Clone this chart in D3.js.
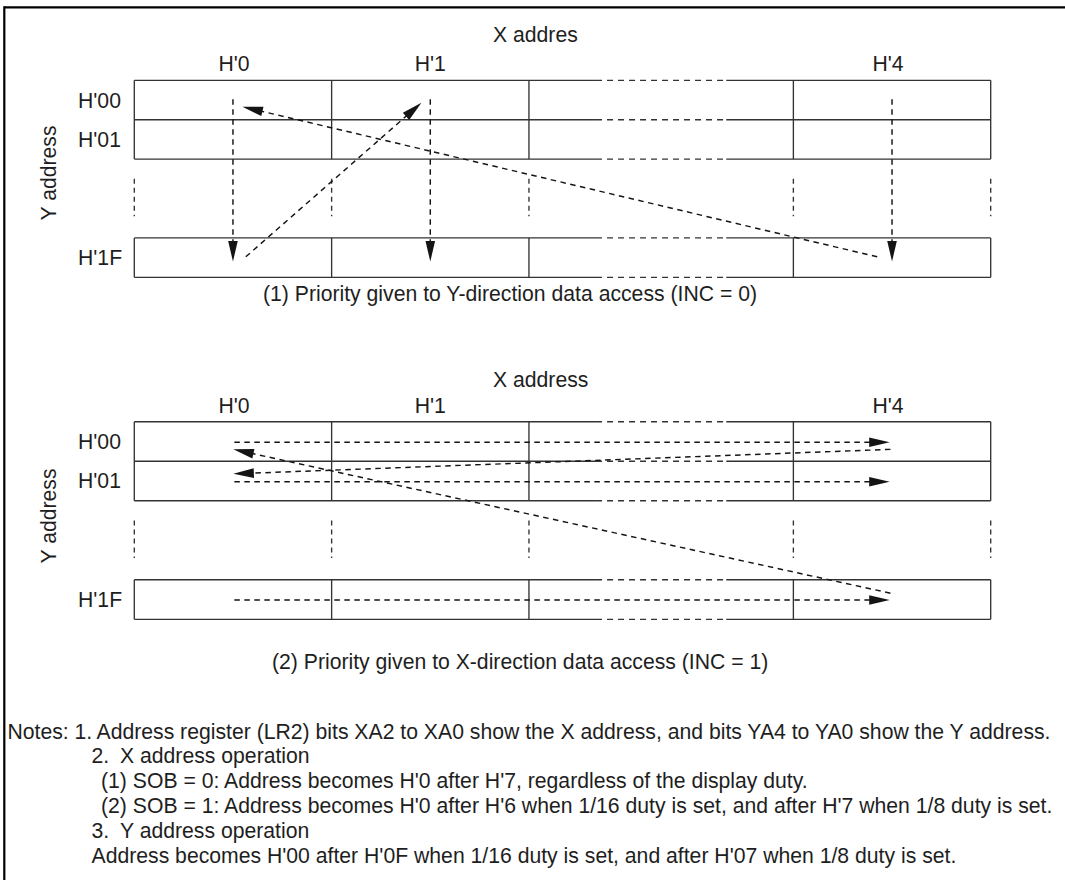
<!DOCTYPE html>
<html><head><meta charset="utf-8">
<script src="https://cdn.jsdelivr.net/npm/d3@7"></script>
<style>
html,body{margin:0;padding:0;background:#fff}
svg{display:block}
text{font-family:"Liberation Sans",Arial,Helvetica,sans-serif;fill:#1e1e1e}
</style>
</head><body>
<svg id="c" width="1065" height="880"></svg>
<script>
// ---- data ----
const xAddressLabels = ["H'0", "H'1", "", "H'4"];
const xLabelAt = [0.505, 1.5, null, 3.82];
const colEdges = [0, 1, 2, 3.34, 4.34];
const yAddressLabels = ["H'00", "H'01", "", "H'1F"];
const rowEdges = [0, 1, 2, 4, 5];
const panelTitles = ["X addres", "X address"];
const yAxisTitle = "Y address";
const panelCaptions = [
  "(1) Priority given to Y-direction data access (INC = 0)",
  "(2) Priority given to X-direction data access (INC = 1)"
];
// arrows as [x1, y1, x2, y2] in column / row units; the head sits at (x2, y2)
const arrowsPanel1 = [
  [0.5, 0.48, 0.5, 4.6],
  [0.565, 4.48, 1.455, 0.57],
  [1.5, 0.48, 1.5, 4.6],
  [3.84, 0.48, 3.84, 4.6],
  [3.765, 4.48, 0.548, 0.67]
];
const arrowsPanel2 = [
  [0.507, 0.52, 3.828, 0.52],
  [3.832, 0.70, 0.502, 1.32],
  [0.507, 1.52, 3.828, 1.52],
  [3.832, 4.34, 0.502, 0.70],
  [0.507, 4.51, 3.828, 4.51]
];
const noteLines = [
  [["Notes:", 7.5], ["1.", 74.5], ["Address register (LR2) bits XA2 to XA0 show the X address, and bits YA4 to YA0 show the Y address.", 96.5]],
  [["2.", 91.5], ["X address operation", 120]],
  [["(1) SOB = 0: Address becomes H'0 after H'7, regardless of the display duty.", 101]],
  [["(2) SOB = 1: Address becomes H'0 after H'6 when 1/16 duty is set, and after H'7 when 1/8 duty is set.", 101]],
  [["3.", 91.5], ["Y address operation", 120]],
  [["Address becomes H'00 after H'0F when 1/16 duty is set, and after H'07 when 1/8 duty is set.", 91.5]]
];

// ---- layout ----
const svg = d3.select("#c");
const FS = 21.2;
const x = d3.scaleLinear().domain([0, 4.34]).range([134.3, 990.7]);
const panels = [
  {y: d3.scaleLinear().domain([0, 5]).range([80.3, 277.3]), titleY: 42, colY: 71, capY: 301, yTitleY: 173, arrows: arrowsPanel1},
  {y: d3.scaleLinear().domain([0, 5]).range([421.7, 619.3]), titleY: 387, colY: 412.5, capY: 669, yTitleY: 516, arrows: arrowsPanel2}
];

// frame
svg.append("line").attr("x1", 4.3).attr("x2", 1065).attr("y1", 7.3).attr("y2", 7.3)
  .attr("stroke", "#000").attr("stroke-width", 2.2);
svg.append("line").attr("x1", 4.3).attr("x2", 4.3).attr("y1", 6.2).attr("y2", 880)
  .attr("stroke", "#000").attr("stroke-width", 2.2);

const gridColor = "#333", gridW = 1.35;
const inkColor = "#141414";

function seg(g, x1, y1, x2, y2, dash, color, w) {
  const l = g.append("line").attr("x1", x1).attr("y1", y1).attr("x2", x2).attr("y2", y2)
    .attr("stroke", color).attr("stroke-width", w);
  if (dash) l.attr("stroke-dasharray", dash);
  return l;
}

panels.forEach((p, i) => {
  const g = svg.append("g");
  const y = p.y;
  // horizontal grid lines: solid, dashed middle part in the wide column, solid
  rowEdges.forEach(r => {
    const yy = y(r);
    seg(g, x(0), yy, x(2.34), yy, null, gridColor, gridW);
    seg(g, x(2.34), yy, x(3.0), yy, "6,5", gridColor, gridW);
    seg(g, x(3.0), yy, x(4.34), yy, null, gridColor, gridW);
  });
  // vertical grid lines: solid in upper rows and bottom row, dashed in the gap
  colEdges.forEach(c => {
    const xx = x(c);
    seg(g, xx, y(0), xx, y(2), null, gridColor, gridW);
    seg(g, xx, y(2.5), xx, y(3.45), "5,4", gridColor, gridW);
    seg(g, xx, y(4), xx, y(5), null, gridColor, gridW);
  });
  // column labels
  xAddressLabels.forEach((lab, k) => {
    if (!lab) return;
    g.append("text").attr("x", x(xLabelAt[k])).attr("y", p.colY)
      .attr("text-anchor", "middle").attr("font-size", FS).text(lab);
  });
  // row labels
  yAddressLabels.forEach((lab, k) => {
    if (!lab) return;
    g.append("text").attr("x", 78).attr("y", y((rowEdges[k] + rowEdges[k + 1]) / 2) + 7.5)
      .attr("font-size", FS).text(lab);
  });
  // titles
  g.append("text").attr("x", 493).attr("y", p.titleY).attr("font-size", FS).text(panelTitles[i]);
  g.append("text").attr("transform", `translate(55.5,${p.yTitleY}) rotate(-90)`)
    .attr("text-anchor", "middle").attr("font-size", FS).text(yAxisTitle);
  g.append("text").attr("x", i === 0 ? 263 : 272).attr("y", p.capY).attr("font-size", FS).text(panelCaptions[i]);
  // arrows
  p.arrows.forEach(a => {
    const x1 = x(a[0]), y1 = y(a[1]), x2 = x(a[2]), y2 = y(a[3]);
    const dx = x2 - x1, dy = y2 - y1, L = Math.hypot(dx, dy);
    const ux = dx / L, uy = dy / L, HL = 20.5, HW = 4.8;
    const bx = x2 - ux * HL, by = y2 - uy * HL;
    seg(g, x1, y1, bx + ux * 1, by + uy * 1, "5.5,4.5", inkColor, 1.45);
    g.append("path")
      .attr("d", `M${x2},${y2}L${bx - uy * HW},${by + ux * HW}L${bx + uy * HW},${by - ux * HW}Z`)
      .attr("fill", inkColor);
  });
});

// notes
const noteBase = 738.5, noteStep = 24.8;
noteLines.forEach((line, i) => {
  line.forEach(([t, xx]) => {
    svg.append("text").attr("x", xx).attr("y", noteBase + i * noteStep)
      .attr("font-size", FS).text(t);
  });
});
</script>
</body></html>
